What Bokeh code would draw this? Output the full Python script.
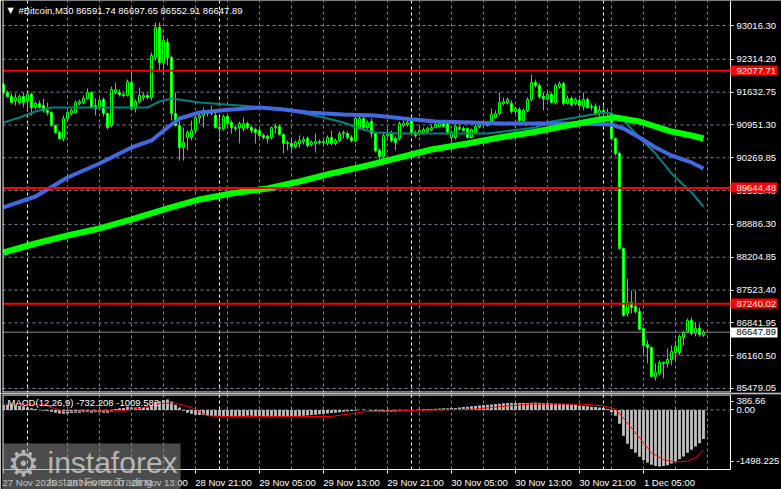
from bokeh.plotting import figure
from bokeh.layouts import column
from bokeh.models import (Range1d, FixedTicker, PrintfTickFormatter, Span, Label,
                          ColumnDataSource, LinearAxis)
from bokeh.embed import file_html
from bokeh.resources import INLINE

FONT = "Liberation Sans"

# ---------------- data ----------------
header_text = "#Bitcoin,M30  86591.74 86697.65 86552.91 86647.89"
macd_text = "MACD(12,26,9) -732.208 -1009.582"

opens = [
    91791, 91625, 91542, 91459, 91417, 91542, 91438, 91584, 91314, 91397,
    91355, 91251, 91210, 90940, 90795, 90670, 91085, 91189, 91210, 91397,
    91417, 91500, 91625, 91355, 91314, 91480, 91189, 90940, 91625, 91625,
    91584, 91563, 91833, 91293, 91438, 91521, 91563, 91521, 92352, 92975,
    92248, 92663, 92352, 91189, 90940, 90483, 90691, 90691, 90836, 91106,
    91148, 91210, 91189, 91148, 90898, 90878, 91127, 91002, 90898, 90898,
    90878, 90981, 90898, 90857, 90836, 90732, 90712, 90691, 90898, 90919,
    90753, 90566, 90566, 90504, 90566, 90608, 90670, 90546, 90566, 90608,
    90587, 90566, 90691, 90566, 90629, 90774, 90774, 90691, 90629, 90898,
    91085, 90898, 91023, 90774, 90421, 90296, 90732, 90774, 90670, 90670,
    90940, 90961, 91044, 90795, 90774, 90795, 90815, 90857, 90898, 90919,
    90981, 90981, 90691, 90691, 90898, 90878, 90878, 90691, 90774, 90919,
    90961, 90940, 90981, 91106, 91189, 91397, 91417, 91397, 91231, 91272,
    91044, 91251, 91480, 91833, 91770, 91542, 91500, 91584, 91417, 91750,
    91812, 91397, 91500, 91397, 91459, 91334, 91480, 91314, 91334, 91189,
    91251, 91210, 91189, 90670, 90359, 88387, 87037, 87265, 87182, 87079,
    86726, 86394, 86331, 85729, 85792, 86020, 85999, 86082, 86227, 86227,
    86539, 86643, 86892, 86622, 86726, 86591.74]

highs = [
    91833, 91667, 91604, 91604, 91584, 91625, 91625, 91625, 91438, 91459,
    91500, 91417, 91231, 90961, 90836, 91148, 91251, 91293, 91459, 91480,
    91563, 91708, 91646, 91500, 91521, 91521, 91210, 91750, 91833, 91687,
    91625, 91895, 92040, 91480, 91729, 91625, 91604, 92455, 93078, 93078,
    92808, 92746, 92393, 91625, 91044, 90898, 90836, 91044, 91148, 91210,
    91314, 91251, 91355, 91251, 91106, 91168, 91189, 91044, 90940, 91023,
    91106, 91023, 90940, 90898, 90878, 90774, 90753, 90919, 90981, 90961,
    90774, 90629, 90691, 90629, 90732, 90712, 90712, 90629, 90774, 90649,
    90649, 90732, 90836, 90670, 90815, 90836, 90815, 90732, 91127, 91148,
    91127, 91044, 91085, 90795, 90463, 90795, 90878, 90836, 90712, 91023,
    91044, 91065, 91085, 90836, 90878, 90898, 90919, 90961, 91002, 91023,
    91044, 91023, 90836, 90961, 90940, 90919, 90898, 90878, 90961, 91002,
    91044, 91023, 91293, 91251, 91625, 91521, 91521, 91459, 91334, 91314,
    91293, 91521, 91999, 91895, 91812, 91625, 91646, 91625, 91812, 91853,
    91853, 91563, 91542, 91521, 91500, 91625, 91521, 91397, 91397, 91355,
    91355, 91293, 91231, 90691, 90400, 88407, 87764, 87515, 87515, 87162,
    86746, 86477, 86352, 85999, 86061, 86041, 86310, 86373, 86477, 86601,
    86684, 86933, 86954, 86850, 86809, 86697.65]

lows = [
    91604, 91521, 91397, 91355, 91376, 91314, 91251, 91148, 91272, 91293,
    91210, 91148, 90919, 90774, 90649, 90608, 91044, 91148, 91189, 91355,
    91376, 91480, 91293, 91148, 91272, 91127, 90857, 90898, 91584, 91542,
    91521, 91542, 91251, 91210, 91397, 91459, 91480, 91459, 92289, 92082,
    91978, 92186, 91044, 90919, 90213, 90213, 90421, 90629, 90795, 90981,
    90898, 91127, 91148, 90878, 90691, 90836, 90940, 90774, 90815, 90566,
    90815, 90857, 90774, 90566, 90691, 90649, 90566, 90649, 90774, 90732,
    90359, 90421, 90359, 90463, 90483, 90546, 90483, 90504, 90380, 90546,
    90546, 90525, 90525, 90525, 90587, 90670, 90649, 90587, 90587, 90857,
    90836, 90857, 90691, 90380, 90151, 90213, 90691, 90587, 90421, 90629,
    90898, 90919, 90732, 90691, 90732, 90753, 90774, 90815, 90878, 90898,
    90898, 90753, 90463, 90649, 90836, 90815, 90670, 90670, 90753, 90878,
    90919, 90919, 90961, 91085, 91148, 91355, 91376, 91189, 91189, 91002,
    90981, 91210, 91438, 91729, 91500, 91251, 91459, 91397, 91376, 91708,
    91355, 91376, 91334, 91355, 91314, 91251, 91293, 91251, 91148, 91127,
    91127, 91148, 90649, 90317, 88366, 86975, 86975, 87037, 87037, 86684,
    86207, 85999, 85708, 85646, 85750, 85688, 85916, 85958, 86061, 86165,
    86373, 86622, 86580, 86560, 86560, 86552.91]

closes = [
    91625, 91542, 91417, 91521, 91542, 91417, 91584, 91314, 91397, 91314,
    91251, 91210, 90940, 90795, 90670, 91085, 91210, 91251, 91417, 91438,
    91500, 91625, 91314, 91293, 91459, 91189, 90898, 91687, 91687, 91584,
    91563, 91853, 91293, 91438, 91563, 91563, 91521, 92393, 92975, 92248,
    92705, 92352, 91189, 90940, 90483, 90587, 90795, 90836, 91106, 91148,
    91210, 91189, 91251, 90898, 90878, 91127, 90981, 90898, 90878, 90981,
    90981, 90898, 90836, 90795, 90732, 90691, 90670, 90898, 90919, 90753,
    90566, 90587, 90504, 90587, 90629, 90649, 90525, 90587, 90608, 90587,
    90608, 90691, 90566, 90629, 90774, 90795, 90691, 90629, 91085, 91085,
    90898, 91002, 90774, 90421, 90296, 90732, 90795, 90629, 90587, 90981,
    90981, 91002, 90774, 90732, 90836, 90857, 90878, 90898, 90961, 90981,
    90919, 90795, 90795, 90919, 90878, 90836, 90691, 90857, 90919, 90961,
    90981, 90981, 91168, 91189, 91417, 91438, 91480, 91231, 91293, 91044,
    91251, 91480, 91833, 91770, 91542, 91500, 91584, 91417, 91770, 91812,
    91397, 91500, 91376, 91480, 91355, 91480, 91314, 91334, 91189, 91251,
    91210, 91189, 90670, 90359, 88387, 86996, 87265, 87162, 87079, 86705,
    86373, 86331, 85729, 85812, 86020, 85999, 86082, 86248, 86352, 86560,
    86643, 86892, 86622, 86726, 86601, 86647.89]

# moving averages (bar index, price)
teal_x = [0, 4, 8, 12, 24, 36, 39, 42, 49, 59, 68, 74, 80, 85, 89, 93, 99, 121, 127, 133,
          137, 143, 150, 152, 155, 159, 163, 167, 172, 175]
teal_y = [91002, 91106, 91231, 91314, 91314, 91314, 91438, 91500, 91417, 91355, 91293, 91210,
          91106, 91002, 90878, 90795, 90774, 90774, 90836, 90898, 91023, 91106, 91210, 91189,
          91044, 90691, 90359, 89944, 89549, 89258]
blue_x = [0, 8, 16, 24, 32, 37, 41, 44, 49, 57, 64, 70, 76, 85, 93, 100, 108, 117, 125, 142,
          152, 155, 159, 163, 167, 172, 175]
blue_y = [89238, 89466, 89860, 90151, 90483, 90629, 90898, 91085, 91210, 91272, 91314, 91272,
          91210, 91168, 91148, 91085, 91023, 91002, 90981, 90981, 90961, 90878, 90691, 90483,
          90317, 90172, 90047]
green_x = [0, 8, 16, 24, 32, 41, 49, 57, 66, 74, 82, 91, 99, 107, 116, 124, 132, 141, 149, 153,
           159, 163, 167, 172, 175]
green_y = [88303, 88490, 88656, 88802, 88989, 89217, 89404, 89528, 89632, 89777, 89944, 90110,
           90276, 90442, 90566, 90691, 90795, 90940, 91065, 91106, 91023, 90919, 90815, 90732, 90670]

# MACD main (histogram) per bar, and signal line samples
macd_hist = [
    120, 130, 120, 110, 100, 90, 60, 40,
    20, 0, -20, -30, -50, -70,
    -90, -100, -90, -80, -70, -70, -60, -60, -70, -60, -60, -70, -70, -40,
    20, 40, 50, 80, 60, 60, 70, 70, 60,
    110, 200, 220, 250, 260, 210,
    130, 60, -20, -70, -100, -120, -130, -130,
    -150, -155, -160, -160, -160, -160, -160, -160, -155, -155,
    -150, -150, -155, -160, -160, -165, -160, -160, -165, -170, -170, -165, -160, -155, -150,
    -140, -130, -120, -110, -100, -90, -80, -70, -60, -50, -40, -30, -20, 0, 10,
    -10, -20, -30, -40, -50, -50, -45, -40, -30, -20, -10, -5, 0,
    10, 15, 20, 25, 30, 35, 40, 40, 45, 50, 60, 70, 80, 90, 100, 110, 120,
    130, 135, 145, 155, 165, 170, 175, 175, 170, 170, 175, 180, 185, 180, 175, 170, 165, 160, 155, 150,
    140, 130, 120, 110, 100, 90, 80, 70, 60, 50,
    20, -60, -150, -350, -650, -850, -980, -1080, -1180, -1260, -1320, -1380, -1410, -1420,
    -1410, -1390, -1350, -1300, -1240, -1170, -1080, -1000, -920, -840, -732.208]
sig_x = [0, 10, 15, 30, 34, 39, 43, 47, 51, 55, 82, 91, 100, 118, 126, 132, 145, 150, 153, 156,
         159, 162, 165, 168, 171, 173, 175]
sig_y = [150, 140, -40, -20, 40, 160, 170, 60, -150, -165, -165, -40, -20, 20, 100, 145, 145, 100,
         20, -330, -700, -1080, -1250, -1310, -1290, -1200, -1009.582]

price_ticks = [93016.30, 92314.20, 91632.75, 90951.30, 90269.85, 89588.40, 88886.30,
               88204.85, 87523.40, 86841.95, 86160.50, 85479.05]
levels = [92077.71, 89644.48, 87240.02]
last_price = 86647.89
macd_max, macd_min = 386.66, -1498.225

time_ticks = [0, 16, 32, 48, 64, 80, 96, 112, 128, 144, 160]
time_labels = ["27 Nov 2025", "28 Nov 05:00", "28 Nov 13:00", "28 Nov 21:00", "29 Nov 05:00",
               "29 Nov 13:00", "29 Nov 21:00", "30 Nov 05:00", "30 Nov 13:00", "30 Nov 21:00",
               "1 Dec 05:00"]
grid_bars = [16 + 8 * k for k in range(21)]
day_separators = [6, 54, 102, 150]

# ---------------- layout constants ----------------
GRID = "#778899"
X0, X1 = -0.25, 181.75          # bar range of the chart area (4 px per bar), right edge = price scale
XR = 194.5                      # right edge of the canvas in bar units (price scale lives inside)
P_TOP, P_PX = 93535.4, 20.7638  # price at the top of the window, price units per pixel
MACD_PX = (macd_max - macd_min) / 75.0   # MACD units per pixel in the indicator window
macd_low = macd_min - 20 * MACD_PX       # frame extends 20 px below the window (time scale)

n = len(opens)
src = ColumnDataSource(dict(
    x=list(range(n)), high=highs, low=lows,
    top=[max(o, c) for o, c in zip(opens, closes)],
    bottom=[min(o, c) for o, c in zip(opens, closes)],
    fill=["#000000" if c >= o else "#FFFFFF" for o, c in zip(opens, closes)],
))

xr = Range1d(X0, XR)
common = dict(output_backend="svg", toolbar_location=None,
              background_fill_color="#000000", border_fill_color="#000000",
              outline_line_color=None, min_border_left=2, min_border_right=0,
              y_axis_location="right")

p = figure(width=781, height=393, x_range=xr, y_range=Range1d(P_TOP - 392 * P_PX, P_TOP),
           x_axis_location=None, min_border_top=0, min_border_bottom=1, **common)
q = figure(width=781, height=96, x_range=xr, y_range=Range1d(macd_low, macd_max),
           min_border_top=1, min_border_bottom=0, **common)


def style_axis(ax, color="#FFFFFF"):
    ax.fixed_location = X1
    ax.axis_line_color = "#FFFFFF"
    ax.major_tick_line_color = "#FFFFFF"
    ax.major_tick_out = 3
    ax.major_tick_in = 0
    ax.minor_tick_line_color = None
    ax.major_label_standoff = 3
    ax.major_label_text_color = color
    ax.major_label_text_font = FONT
    ax.major_label_text_font_size = "9.5px"


def hlines(fig, ys, **kw):
    fig.segment(x0=[X0] * len(ys), y0=ys, x1=[X1] * len(ys), y1=ys, **kw)


# ---- main window grid ----
p.ygrid.visible = False
p.xgrid.ticker = FixedTicker(ticks=grid_bars)
p.xgrid.grid_line_color = GRID
p.xgrid.grid_line_dash = "3 3"
hlines(p, price_ticks, line_color=GRID, line_dash="3 3", line_width=1)
for d in day_separators:
    p.add_layout(Span(location=d, dimension="height", line_color="#FFFFFF",
                      line_dash="3 3", line_width=1, level="underlay"))

# main price axis (pinned to the right edge of the chart area)
pa = p.yaxis[0]
style_axis(pa)
pa.ticker = FixedTicker(ticks=price_ticks)
pa.formatter = PrintfTickFormatter(format="%.2f")

# candles
p.segment(x0="x", y0="low", x1="x", y1="high", source=src, line_color="#00FF00", line_width=1)
p.vbar(x="x", width=0.5, top="top", bottom="bottom", source=src,
       fill_color="fill", line_color="#00FF00", line_width=1)

# moving averages
p.line(teal_x, teal_y, line_color="#008080", line_width=2)
p.line(blue_x, blue_y, line_color="#4169E1", line_width=4)
p.line(green_x, green_y, line_color="#00FF00", line_width=6)

# horizontal levels + last price line
hlines(p, levels, line_color="#FF0000", line_width=2)
hlines(p, [last_price], line_color="#8C8C8C", line_width=1)

# window border: left and bottom (right = price axis line)
p.segment(x0=[X0 + 0.125], y0=[P_TOP], x1=[X0 + 0.125], y1=[P_TOP - 392 * P_PX],
          line_color="#FFFFFF", line_width=1)
hlines(p, [P_TOP - 391.5 * P_PX], line_color="#FFFFFF", line_width=1)


# price tags on the price scale
def tag_axis(values, box_color, text_color):
    ax = LinearAxis(fixed_location=X1, ticker=FixedTicker(ticks=values),
                    formatter=PrintfTickFormatter(format="%.2f"))
    ax.axis_line_color = None
    ax.minor_tick_line_color = None
    ax.major_tick_line_color = box_color
    ax.major_tick_line_width = 10
    ax.major_tick_out = 47
    ax.major_tick_in = 0
    ax.major_label_standoff = -41
    ax.major_label_text_color = text_color
    ax.major_label_text_font = FONT
    ax.major_label_text_font_size = "9.5px"
    p.add_layout(ax, "right")


tag_axis(levels, "#FF0000", "#FFFFFF")
tag_axis([last_price], "#FFFFFF", "#000000")

# header
p.add_layout(Label(x=1.0, y=P_TOP - 10 * P_PX, text="▼", text_color="#FFFFFF",
                   text_font="DejaVu Sans", text_font_size="8px", text_align="left",
                   text_baseline="middle"))
p.add_layout(Label(x=3.75, y=P_TOP - 10 * P_PX, text=header_text, text_color="#FFFFFF",
                   text_font=FONT, text_font_size="9.5px", text_align="left",
                   text_baseline="middle"))

# ---- MACD window ----
qa = q.yaxis[0]
style_axis(qa)
qa.bounds = (macd_min, macd_max)
qa.ticker = FixedTicker(ticks=[211, 0, -1297])
qa.major_label_overrides = {211: f"{macd_max:.2f}", 0: "0.00", -1297: f"{macd_min:.3f}"}

q.xgrid.visible = False
q.ygrid.visible = False
hlines(q, [0], line_color=GRID, line_dash="3 3", line_width=1)
q.segment(x0=grid_bars, y0=[macd_max] * len(grid_bars), x1=grid_bars, y1=[macd_min] * len(grid_bars),
          line_color=GRID, line_dash="3 3", line_width=1)
q.segment(x0=day_separators, y0=[macd_max] * 4, x1=day_separators, y1=[macd_min] * 4,
          line_color="#FFFFFF", line_dash="3 3", line_width=1)
# window border (top and left); right border = MACD axis line, bottom = time axis line
hlines(q, [macd_max - 0.5 * MACD_PX], line_color="#FFFFFF", line_width=1)
q.segment(x0=[X0 + 0.125], y0=[macd_max], x1=[X0 + 0.125], y1=[macd_min],
          line_color="#FFFFFF", line_width=1)

q.vbar(x=list(range(n)), width=0.7, top=macd_hist, bottom=0, fill_color="#C0C0C0",
       line_color=None)
q.line(sig_x, sig_y, line_color="#FF0000", line_width=1)
q.add_layout(Label(x=1.0, y=macd_max - 8 * MACD_PX, text=macd_text, text_color="#FFFFFF",
                   text_font=FONT, text_font_size="9.5px", text_align="left",
                   text_baseline="middle"))

# time axis, pinned to the bottom of the MACD window
centers = [t + round(4.7 * len(s) / 8 * 4) / 4 for t, s in zip(time_ticks, time_labels)]
xa = q.xaxis[0]
xa.fixed_location = macd_min
xa.bounds = (X0, X1)
xa.ticker = FixedTicker(ticks=centers, minor_ticks=time_ticks)
xa.major_label_overrides = {c: s for c, s in zip(centers, time_labels)}
xa.axis_line_color = "#FFFFFF"
xa.major_tick_out = 0
xa.major_tick_in = 0
xa.minor_tick_out = 4
xa.minor_tick_in = 0
xa.minor_tick_line_color = "#FFFFFF"
xa.major_label_standoff = 3
xa.major_label_text_color = "#FFFFFF"
xa.major_label_text_font = FONT
xa.major_label_text_font_size = "9.5px"

# watermark
q.add_layout(Label(x=X0 - 0.5, y=macd_max - 49 * MACD_PX, text="instaforex",
                   text_color="#C8C8C8", text_alpha=0.85,
                   text_font=FONT, text_font_size="30px", text_align="left",
                   text_baseline="top", background_fill_color="#8A8A8A",
                   background_fill_alpha=0.55,
                   padding=dict(left=47, right=3, top=2, bottom=30)))
q.add_layout(Label(x=5.0, y=macd_max - 69 * MACD_PX, text="⚙", text_color="#C8C8C8",
                   text_alpha=0.85, text_font="DejaVu Sans", text_font_size="36px",
                   text_align="center", text_baseline="middle"))
q.add_layout(Label(x=11.25, y=macd_max - 87 * MACD_PX, text="Instant Forex Trading",
                   text_color="#C8C8C8", text_alpha=0.85, text_font=FONT,
                   text_font_size="11px", text_align="left", text_baseline="middle"))

layout = column(p, q)
html = file_html(layout, INLINE, "#Bitcoin,M30")
html = html.replace("<body>", '<body style="margin:0;overflow:hidden;background-color:#000000;">', 1)
open("out.html", "w").write(html)
